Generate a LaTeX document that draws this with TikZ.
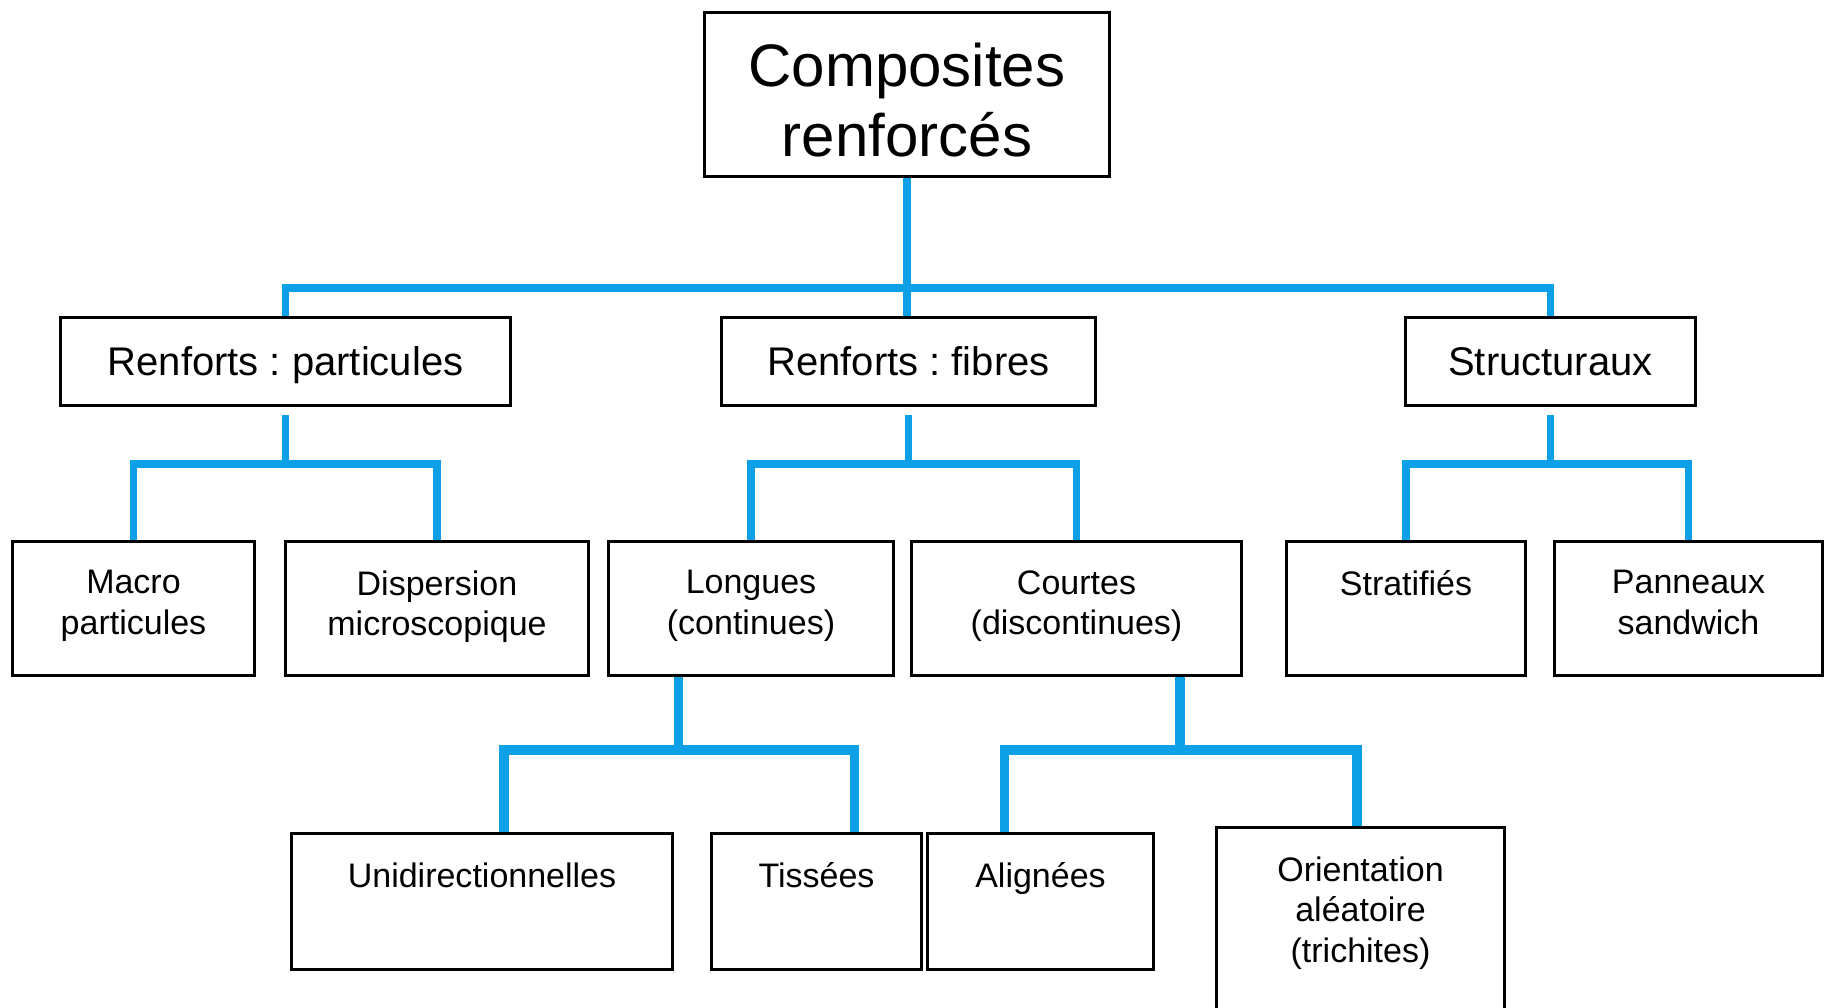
\documentclass[tikz,border=0pt]{standalone}
\usepackage{fontspec}
\setmainfont{Liberation Sans}
\frenchspacing
\usetikzlibrary{positioning}
\definecolor{linkblue}{RGB}{14,160,230}

\begin{document}
\begin{tikzpicture}[x=0.5pt,y=-0.5pt,
	box/.style={draw,line width=1.5pt,inner sep=0pt,anchor=north west},
	roottext/.style={font=\fontsize{30pt}{35pt}\selectfont,align=center,inner sep=0pt},
	headtext/.style={font=\fontsize{20pt}{24pt}\selectfont,text height=15pt,text depth=1pt},
	leaftext/.style={font=\fontsize{17pt}{20.4pt}\selectfont,align=center,inner sep=0pt},
	link/.style={draw=linkblue,line width=3.75pt},
	thick link/.style={draw=linkblue,line width=4.6pt}]
	\useasboundingbox (0,0) rectangle (1825,1007);
	% boxes
	\node[box,minimum width=202.5pt,minimum height=82pt] (root) at (703,11) {};
	\node[box,headtext,minimum width=225pt,minimum height=44pt] (pp) at (59,316) {Renforts : particules};
	\node[box,headtext,minimum width=187pt,minimum height=44pt] (pf) at (720,316) {Renforts : fibres};
	\node[box,headtext,minimum width=145pt,minimum height=44pt] (ps) at (1404,316) {Structuraux};
	\node[box,minimum width=121pt,minimum height=67pt] (macro) at (11,540) {};
	\node[box,minimum width=151.5pt,minimum height=67pt] (disp) at (284,540) {};
	\node[box,minimum width=142.5pt,minimum height=67pt] (long) at (607,540) {};
	\node[box,minimum width=165pt,minimum height=67pt] (court) at (910,540) {};
	\node[box,minimum width=119.5pt,minimum height=67pt] (strat) at (1285,540) {};
	\node[box,minimum width=134pt,minimum height=67pt] (pann) at (1553,540) {};
	\node[box,minimum width=190.5pt,minimum height=68pt] (uni) at (290,832) {};
	\node[box,minimum width=105pt,minimum height=68pt] (tiss) at (710,832) {};
	\node[box,minimum width=113pt,minimum height=68pt] (alig) at (926,832) {};
	\node[box,minimum width=144pt,minimum height=97pt] (orient) at (1215,826) {};
	% texts
	\node[roottext] (root-t) at ([yshift=-3pt]root.center) {Composites\\renforcés};
	\node[leaftext,below=15pt of macro.north] (macro-t) {Macro\\particules};
	\node[leaftext,below=15pt of disp.north] (disp-t) {Dispersion\\microscopique};
	\node[leaftext,below=15pt of long.north] (long-t) {Longues\\(continues)};
	\node[leaftext,below=15pt of court.north] (court-t) {Courtes\\(discontinues)};
	\node[leaftext,below=15pt of strat.north] (strat-t) {Stratifiés};
	\node[leaftext,below=15pt of pann.north] (pann-t) {Panneaux\\sandwich};
	\node[leaftext,below=15pt of uni.north] (uni-t) {Unidirectionnelles};
	\node[leaftext,below=15pt of tiss.north] (tiss-t) {Tissées};
	\node[leaftext,below=15pt of alig.north] (alig-t) {Alignées};
	\node[leaftext,below=15pt of orient.north] (orient-t) {Orientation\\aléatoire\\(trichites)};
	% links
	\draw[link] (root.south) -- (root.south |- pf.north);
	\draw[link] (pp.north) -- ++(0,-28) -| (ps.north);
	\draw[link] (macro.north) -- ++(0,-76) coordinate (pp-bar) -| (disp.north);
	\draw[link] ([yshift=-4pt]pp.south) -- (pp.south |- pp-bar);
	\draw[link] (long.north) -- ++(0,-76) coordinate (pf-bar) -| (court.north);
	\draw[link] ([yshift=-4pt]pf.south) -- (pf.south |- pf-bar);
	\draw[link] (strat.north) -- ++(0,-76) coordinate (ps-bar) -| (pann.north);
	\draw[link] ([yshift=-4pt]ps.south) -- (ps.south |- ps-bar);
	\coordinate (long-stem) at ([xshift=-36.25pt]long.south);
	\coordinate (court-stem) at ([xshift=51.75pt]court.south);
	\draw[thick link] ([xshift=11pt]uni.north) -- ++(0,-82) coordinate (long-bar) -| ([xshift=19pt]tiss.north);
	\draw[thick link] (long-stem) -- (long-stem |- long-bar);
	\draw[thick link] ([xshift=-18pt]alig.north) -- ++(0,-82) coordinate (court-bar) -| ([xshift=-1.75pt]orient.north);
	\draw[thick link] (court-stem) -- (court-stem |- court-bar);
\end{tikzpicture}
\end{document}
